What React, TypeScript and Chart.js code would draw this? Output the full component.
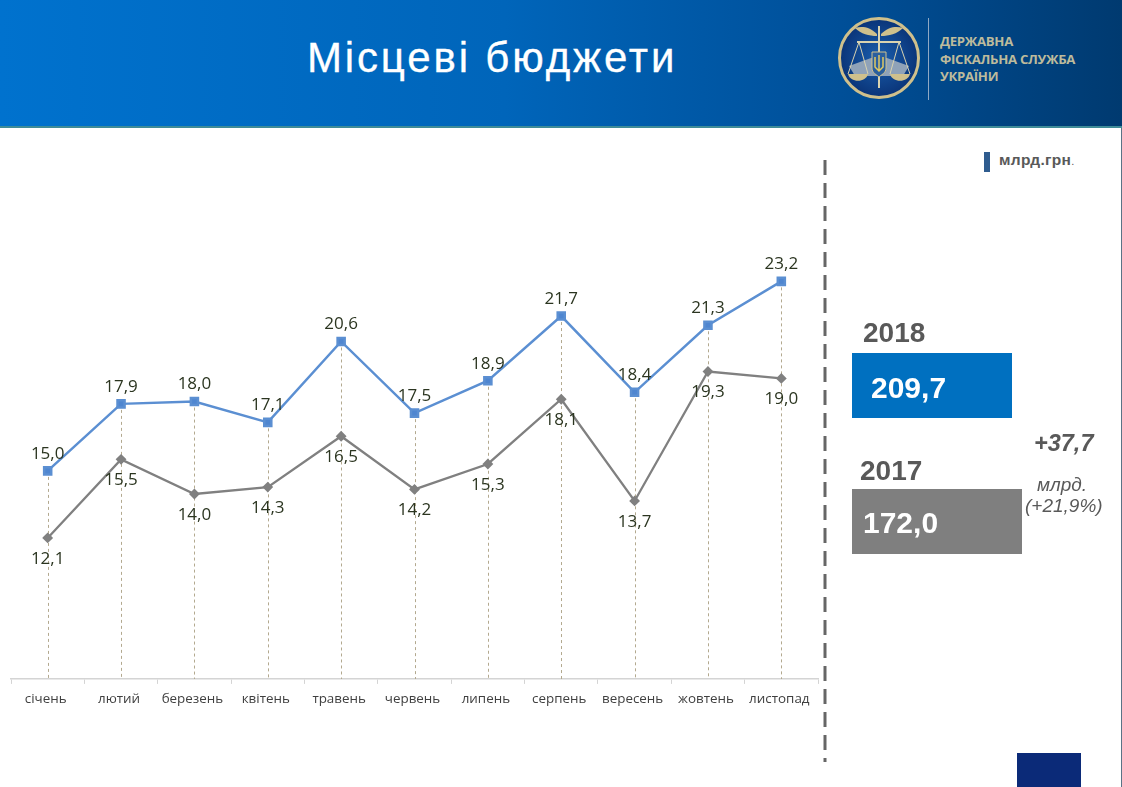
import React, { useEffect, useRef } from "react";
import { Chart, registerables } from "chart.js";

Chart.register(...registerables);

const title = "Місцеві бюджети";
const agencyLines = ["ДЕРЖАВНА", "ФІСКАЛЬНА СЛУЖБА", "УКРАЇНИ"];
const unitLabel = "млрд.грн";
const categories = ["січень", "лютий", "березень", "квітень", "травень", "червень", "липень", "серпень", "вересень", "жовтень", "листопад"];
const values2018 = [15.0, 17.9, 18.0, 17.1, 20.6, 17.5, 18.9, 21.7, 18.4, 21.3, 23.2];
const values2017 = [12.1, 15.5, 14.0, 14.3, 16.5, 14.2, 15.3, 18.1, 13.7, 19.3, 19.0];
const total2018 = "209,7";
const total2017 = "172,0";
const deltaAbs = "+37,7";
const deltaUnit = "млрд.";
const deltaPct = "(+21,9%)";

const fmt = (v: number) => v.toFixed(1).replace(".", ",");

const sans = '"Liberation Sans", Arial, sans-serif';
const labelFont = '"Open Sans", sans-serif';

const dropLines = {
  id: "dropLines",
  beforeDatasetsDraw(chart: any) {
    const { ctx, scales } = chart;
    const bottom = scales.y.getPixelForValue(6);
    ctx.save();
    ctx.strokeStyle = "#b3a98f";
    ctx.lineWidth = 1;
    ctx.setLineDash([3, 3]);
    values2018.forEach((v, i) => {
      const x = Math.round(scales.x.getPixelForValue(i)) + 0.5;
      ctx.beginPath();
      ctx.moveTo(x, scales.y.getPixelForValue(v));
      ctx.lineTo(x, bottom);
      ctx.stroke();
    });
    ctx.restore();
  },
};

const dataLabels = {
  id: "dataLabels",
  afterDatasetsDraw(chart: any) {
    const { ctx, scales } = chart;
    ctx.save();
    ctx.font = `17px ${labelFont}`;
    ctx.fillStyle = "#2b3520";
    ctx.textAlign = "center";
    ctx.textBaseline = "middle";
    values2018.forEach((v, i) => {
      ctx.fillText(fmt(v), scales.x.getPixelForValue(i), scales.y.getPixelForValue(v) - 17);
    });
    values2017.forEach((v, i) => {
      ctx.fillText(fmt(v), scales.x.getPixelForValue(i), scales.y.getPixelForValue(v) + 21);
    });
    ctx.restore();
  },
};

function LineChart() {
  const ref = useRef<HTMLCanvasElement>(null);
  useEffect(() => {
    const chart = new Chart(ref.current as HTMLCanvasElement, {
      type: "line",
      data: {
        labels: categories,
        datasets: [
          {
            label: "2018",
            data: values2018,
            borderColor: "#5b8fd2",
            backgroundColor: "#4f86d0",
            borderWidth: 2.5,
            pointStyle: "rect",
            pointRadius: 5,
            tension: 0,
          },
          {
            label: "2017",
            data: values2017,
            borderColor: "#808080",
            backgroundColor: "#808080",
            borderWidth: 2.3,
            pointStyle: "rectRot",
            pointRadius: 3.8,
            tension: 0,
          },
        ],
      },
      options: {
        animation: false,
        responsive: false,
        devicePixelRatio: 1,
        layout: { padding: { left: 11, right: 304, top: 145, bottom: 73 } },
        plugins: { legend: { display: false }, title: { display: false }, tooltip: { enabled: false } },
        scales: {
          x: {
            offset: true,
            grid: { offset: true, drawOnChartArea: false, drawTicks: true, tickLength: 5, color: "#d4d4d4" },
            border: { color: "#d4d4d4", width: 1.5 },
            ticks: { color: "#404040", font: { family: labelFont, size: 13.4 }, maxRotation: 0, autoSkip: false, padding: 7, labelOffset: -2 },
          },
          y: { display: false, min: 6, max: 29.1 },
        },
      },
      plugins: [dropLines, dataLabels],
    });
    return () => chart.destroy();
  }, []);
  return <canvas ref={ref} width={1122} height={787} style={{ position: "absolute", left: 0, top: 0, width: 1122, height: 787 }} />;
}

function Logo() {
  return (
    <svg width={84} height={84} viewBox="0 0 84 84" style={{ position: "absolute", left: 837, top: 16 }}>
      <defs>
        <radialGradient id="lg" cx="50%" cy="50%" r="50%">
          <stop offset="0%" stopColor="#1a5fae" />
          <stop offset="100%" stopColor="#0a3478" />
        </radialGradient>
      </defs>
      <circle cx="42" cy="42" r="39.5" fill="url(#lg)" stroke="#cfc08c" strokeWidth="3" />
      <polygon points="12,50 34,42 50,42 72,50 66,60 18,60" fill="#8fa2b8" />
      <path d="M42 10 V72" stroke="#d9d3b0" strokeWidth="2" />
      <path d="M20 26 H64" stroke="#d9d3b0" strokeWidth="2" />
      <path d="M40 18 C32 10 24 10 18 12 C24 18 32 20 40 20 Z" fill="#cfc08c" />
      <path d="M44 18 C52 10 60 10 66 12 C60 18 52 20 44 20 Z" fill="#cfc08c" />
      <path d="M22 26 L11 58 M22 26 L31 58 M62 26 L53 58 M62 26 L73 58" stroke="#d9d3b0" strokeWidth="1" fill="none" />
      <path d="M11 58 H31 C29 67 13 67 11 58 Z" fill="#cfc08c" />
      <path d="M53 58 H73 C71 67 55 67 53 58 Z" fill="#cfc08c" />
      <path d="M35 36 H49 V52 C49 57 44 59 42 61 C40 59 35 57 35 52 Z" fill="#2a5f9e" stroke="#cfc08c" strokeWidth="1" />
      <path d="M42 39 V55 M38 41 V51 L42 55 L46 51 V41" stroke="#e0c964" strokeWidth="1.5" fill="none" />
    </svg>
  );
}

const abs = (left: number, top: number, style: React.CSSProperties = {}): React.CSSProperties => ({
  position: "absolute",
  left,
  top,
  whiteSpace: "nowrap",
  fontFamily: sans,
  ...style,
});

export default function App() {
  return (
    <div style={{ position: "absolute", left: 0, top: 0, width: 1122, height: 787, overflow: "hidden", background: "#fff" }}>
      <div
        style={{
          position: "absolute",
          left: 0,
          top: 0,
          width: 1122,
          height: 126,
          background: "linear-gradient(90deg, #0072ce 0%, #0065ba 45%, #004f98 75%, #003a70 100%)",
          borderBottom: "2px solid #3f8c98",
        }}
      />
      <div style={abs(307, 35, { fontSize: 42, lineHeight: "46px", color: "#fff", letterSpacing: 2.85, WebkitTextStroke: "0.3px #fff" })}>{title}</div>
      <Logo />
      <div style={{ position: "absolute", left: 928, top: 18, width: 1, height: 82, background: "#8fa9c4" }} />
      {agencyLines.map((t, i) => (
        <div key={t} style={abs(940, 33 + i * 17.5, { fontSize: 13.2, lineHeight: "17px", fontWeight: 700, color: "#bdbb9c", fontFamily: '"Open Sans", sans-serif', letterSpacing: -0.3 })}>
          {t}
        </div>
      ))}
      <div style={{ position: "absolute", left: 1121, top: 128, width: 1, height: 659, background: "#5a7386" }} />
      <div style={{ position: "absolute", left: 984, top: 152, width: 6, height: 20, background: "#2f5c8f" }} />
      <div style={abs(999, 152, { fontSize: 15.5, lineHeight: "16px", fontWeight: 700, color: "#595959", letterSpacing: 0.3 })}>
        {unitLabel}<span style={{ fontWeight: 400, fontSize: 11 }}>.</span>
      </div>
      <LineChart />
      <svg width={6} height={620} style={{ position: "absolute", left: 822, top: 150 }}>
        <line x1={3} y1={10} x2={3} y2={612} stroke="#666" strokeWidth={3} strokeDasharray="15 8" />
      </svg>
      <div style={abs(863, 317, { fontSize: 28, lineHeight: "32px", fontWeight: 700, color: "#595959" })}>2018</div>
      <div style={{ position: "absolute", left: 852, top: 353, width: 160, height: 65, background: "#0070c0" }} />
      <div style={abs(871, 371, { fontSize: 30, lineHeight: "34px", fontWeight: 700, color: "#fff" })}>{total2018}</div>
      <div style={abs(860, 455, { fontSize: 28, lineHeight: "32px", fontWeight: 700, color: "#595959" })}>2017</div>
      <div style={{ position: "absolute", left: 852, top: 489, width: 170, height: 65, background: "#7f7f7f" }} />
      <div style={abs(863, 506, { fontSize: 30, lineHeight: "34px", fontWeight: 700, color: "#fff" })}>{total2017}</div>
      <div style={abs(1034, 430, { fontSize: 23.5, lineHeight: "26px", fontWeight: 700, fontStyle: "italic", color: "#595959" })}>{deltaAbs}</div>
      <div style={abs(1037, 474, { fontSize: 19, lineHeight: "21px", fontStyle: "italic", color: "#595959" })}>{deltaUnit}</div>
      <div style={abs(1025, 495, { fontSize: 19, lineHeight: "21px", fontStyle: "italic", color: "#595959" })}>{deltaPct}</div>
      <div style={{ position: "absolute", left: 1017, top: 753, width: 64, height: 34, background: "#0b2a78" }} />
    </div>
  );
}
